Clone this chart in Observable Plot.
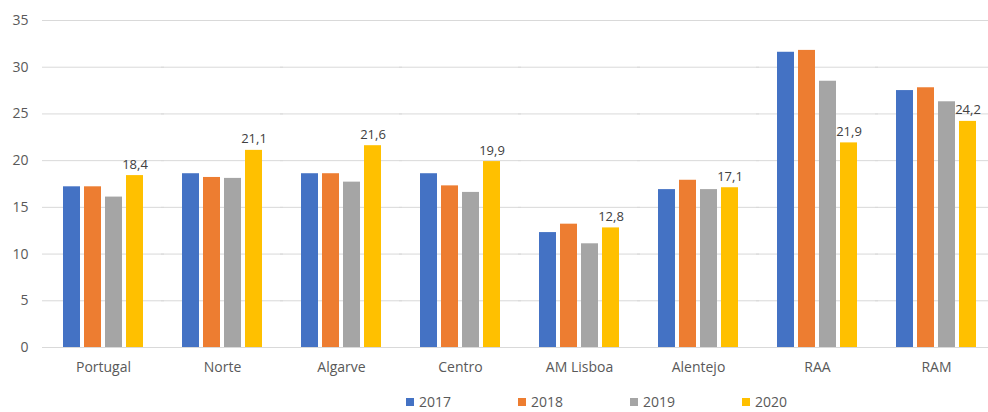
<!DOCTYPE html>
<html>
<head>
<meta charset="utf-8">
<script src="https://cdn.jsdelivr.net/npm/d3@7"></script>
<script src="https://cdn.jsdelivr.net/npm/@observablehq/plot@0.6"></script>
<style>
  html, body { margin: 0; padding: 0; background: #fff; overflow: hidden; width: 988px; height: 412px; }
  #chart { position: relative; width: 988px; height: 385px; overflow: hidden; }
  #chart svg { max-width: none !important; display: block; }
  #legend { position: relative; height: 27px; font-family: "Open Sans", sans-serif; font-size: 14px; color: #595959; }
  .item { position: absolute; top: 7px; display: flex; align-items: center; }
  .sw { width: 8px; height: 8px; margin-right: 5px; }
</style>
</head>
<body>
<div id="chart"></div>
<div id="legend"></div>
<script>
const categories = ["Portugal", "Norte", "Algarve", "Centro", "AM Lisboa", "Alentejo", "RAA", "RAM"];
const years = ["2017", "2018", "2019", "2020"];
const v2017 = [17.2, 18.6, 18.6, 18.6, 12.3, 16.9, 31.6, 27.5];
const v2018 = [17.2, 18.2, 18.6, 17.3, 13.2, 17.9, 31.8, 27.8];
const v2019 = [16.1, 18.1, 17.7, 16.6, 11.1, 16.9, 28.5, 26.3];
const v2020 = [18.4, 21.1, 21.6, 19.9, 12.8, 17.1, 21.9, 24.2];
const yTicks = [0, 5, 10, 15, 20, 25, 30, 35];
const colors = ["#4472C4", "#ED7D31", "#A5A5A5", "#FFC000"];

const series = [v2017, v2018, v2019, v2020];
const data = [];
categories.forEach((c, i) => {
  years.forEach((y, j) => data.push({ region: c, year: y, value: series[j][i] }));
});
const labeled = data.filter(d => d.year === "2020");

const locale = d3.formatLocale({ decimal: ",", thousands: ".", grouping: [3], currency: ["", ""] });
const fmt = locale.format(".1f");

const chart = Plot.plot({
  width: 998,
  height: 385,
  marginLeft: 41,
  marginRight: 0,
  marginTop: 20,
  marginBottom: 38,
  style: { fontFamily: "'Open Sans', sans-serif", fontSize: "14px", color: "#595959", background: "#fff", overflow: "visible", maxWidth: "none" },
  fx: { domain: categories, paddingInner: 0.314, paddingOuter: 0.145, label: null },
  x: { domain: years, paddingInner: 0.21, paddingOuter: 0, axis: null },
  y: { domain: [0, 35], ticks: yTicks, label: null },
  color: { domain: years, range: colors },
  marks: [
    Plot.gridY(yTicks, { stroke: "#d9d9d9", strokeOpacity: 1, insetLeft: -20, insetRight: -20 }),
    Plot.axisY(yTicks, { tickSize: 0, tickPadding: 34, label: null, fontSize: 14 }),
    Plot.barY(data, { fx: "region", x: "year", y: "value", fill: "year" }),
    Plot.text(labeled, { fx: "region", x: "year", y: "value", text: d => fmt(d.value), dy: -7, lineAnchor: "bottom", fill: "#404040", fontSize: 13 }),
    Plot.axisFx({ anchor: "bottom", tickSize: 0, tickPadding: 15, label: null, fontSize: 14 })
  ]
});
document.getElementById("chart").appendChild(chart);

const legend = document.getElementById("legend");
years.forEach((y, i) => {
  const item = document.createElement("div");
  item.className = "item";
  item.style.left = (406 + i * 112) + "px";
  const sw = document.createElement("div");
  sw.className = "sw";
  sw.style.background = colors[i];
  const t = document.createElement("span");
  t.textContent = y;
  item.appendChild(sw);
  item.appendChild(t);
  legend.appendChild(item);
});
</script>
</body>
</html>
